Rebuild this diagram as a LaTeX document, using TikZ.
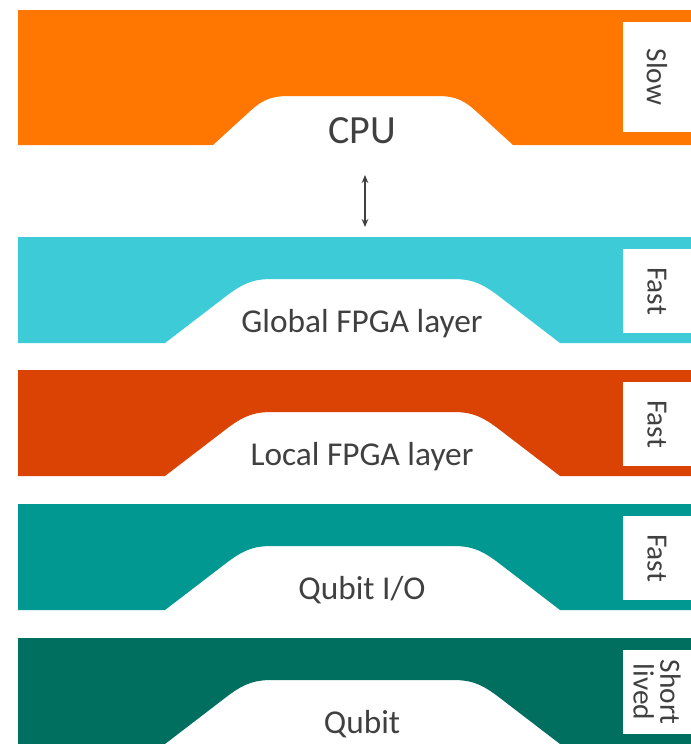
\documentclass[tikz,border=0pt]{standalone}
\usepackage{fontspec}
\setmainfont{Carlito}
\usepackage{xcolor}
\usetikzlibrary{arrows.meta}

\definecolor{cpuorange}{HTML}{FF7700}
\definecolor{globalcyan}{HTML}{3ECBD8}
\definecolor{localred}{HTML}{DA4304}
\definecolor{iogreen}{HTML}{009890}
\definecolor{qubitgreen}{HTML}{006F60}
\definecolor{textgray}{HTML}{404040}

\begin{document}
\begin{tikzpicture}[
        x=0.75pt, y=-0.75pt,
        layer/.pic={
            \path[pic actions] (18,0) -- (691,0) -- (691,106) -- (560,106) -- (500,60)
                .. controls (483,47) and (473,42) .. (453,42) -- (272,42)
                .. controls (252,42) and (242,47) .. (225,60) -- (165,106) -- (18,106) -- cycle;
            \fill[white] (623,12) rectangle (691,96);
        },
        title/.style={anchor=base, text=textgray, font=\fontsize{25}{29}\selectfont},
        speed/.style={rotate=-90, text=textgray, align=center, font=\fontsize{22}{20}\selectfont},
        arrow/.style={{Stealth[length=6pt,width=5pt]}-{Stealth[length=6pt,width=5pt]}, line width=1.1pt, draw=textgray}
    ]
        \useasboundingbox (0,0) rectangle (691,744);

        % CPU band
        \fill[cpuorange] (18,10) -- (691,10) -- (691,145) -- (513,145) -- (478,113)
            .. controls (465,101) and (457,96) .. (437,96) -- (289,96)
            .. controls (269,96) and (261,101) .. (248,113) -- (213,145) -- (18,145) -- cycle;
        \fill[white] (623,22) rectangle (691,132);

        % lower bands
        \pic[fill=globalcyan] at (0,237) {layer};
        \pic[fill=localred] at (0,370) {layer};
        \pic[fill=iogreen] at (0,504) {layer};
        \pic[fill=qubitgreen] at (0,638) {layer};

        \node[title, font=\fontsize{30}{34}\selectfont] (cpu) at (362,143) {CPU};
        \node[title] (global) at (362,332) {Global FPGA layer};
        \node[title] (local) at (362,465) {Local FPGA layer};
        \node[title] (qubitio) at (362,599) {Qubit I/O};
        \node[title] (qubit) at (362,733) {Qubit};

        \node[speed] (slow) at (657,77) {Slow};
        \node[speed] (fastglobal) at (657,291) {Fast};
        \node[speed] (fastlocal) at (657,424) {Fast};
        \node[speed] (fastio) at (657,558) {Fast};
        \node[speed] (short) at (657,692) {Short\\lived};

        \coordinate (cpu-port) at (365,175);
        \coordinate (global-port) at (365,227);
        \draw[arrow] (cpu-port) -- (global-port);
    \end{tikzpicture}
\end{document}
